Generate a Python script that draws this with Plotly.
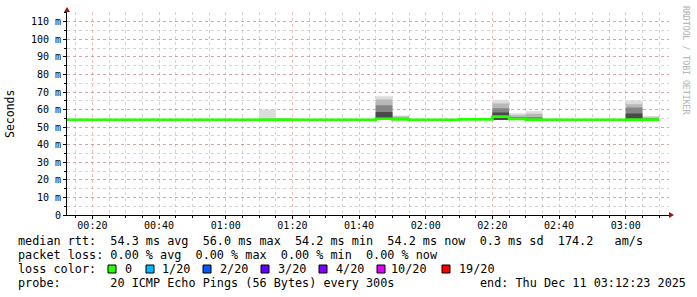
import plotly.graph_objects as go
from datetime import datetime, timedelta

# ---------------- data ----------------
DAY = "2025-12-11"
slot_times = ["00:10", "00:15", "00:20", "00:25", "00:30", "00:35", "00:40", "00:45",
              "00:50", "00:55", "01:00", "01:05", "01:10", "01:15", "01:20", "01:25",
              "01:30", "01:35", "01:40", "01:45", "01:50", "01:55", "02:00", "02:05",
              "02:10", "02:15", "02:20", "02:25", "02:30", "02:35", "02:40", "02:45",
              "02:50", "02:55", "03:00", "03:05"]
median_ms = [54.2, 54.2, 54.2, 54.2, 54.2, 54.2, 54.2, 54.2,
             54.2, 54.2, 54.2, 54.2, 54.3, 54.3, 54.2, 54.2,
             54.2, 54.2, 54.2, 54.8, 54.4, 54.2, 54.2, 54.2,
             54.4, 54.4, 56.0, 54.6, 54.3, 54.2, 54.2, 54.2,
             54.2, 54.2, 54.3, 54.3]

smoke_slots = ["01:10", "01:15", "01:45", "01:50", "02:10", "02:15",
               "02:20", "02:25", "02:30", "02:35", "03:00", "03:05"]
smoke_min = [54.1, 54.1, 54.1, 54.1, 54.1, 54.1, 54.1, 54.1, 54.1, 54.1, 54.1, 54.1]
smoke_p1 = [60.1, 55.0, 67.6, 56.7, 55.0, 55.0, 65.6, 57.9, 59.1, 55.0, 65.2, 56.3]
smoke_p2 = [None, None, 65.7, 56.0, None, None, 63.5, 56.8, 57.6, None, 63.0, 55.7]
smoke_p3 = [None, None, 62.4, 55.3, None, None, 60.7, 55.8, 55.8, None, 61.2, 55.1]
smoke_p4 = [None, None, 58.6, 54.9, None, None, 58.4, None, None, None, 57.8, None]

y_tickvals = [0, 10, 20, 30, 40, 50, 60, 70, 80, 90, 100, 110]
y_ticktext = ["0", "10 m", "20 m", "30 m", "40 m", "50 m", "60 m", "70 m",
              "80 m", "90 m", "100 m", "110 m"]

legend_line1 = "median rtt:  54.3 ms avg  56.0 ms max  54.2 ms min  54.2 ms now  0.3 ms sd  174.2   am/s"
legend_line2 = "packet loss: 0.00 % avg  0.00 % max  0.00 % min  0.00 % now"
legend_line3_title = "loss color:"
loss_labels = ["0", "1/20", "2/20", "3/20", "4/20", "10/20", "19/20"]
loss_colors = ["#26ff00", "#00b8ff", "#0059ff", "#5e00ff", "#7e00ff", "#dd00ff", "#ff0000"]
legend_line4 = "probe:       20 ICMP Echo Pings (56 Bytes) every 300s"
legend_end = "end: Thu Dec 11 03:12:23 2025"

# ---------------- geometry ----------------
W, H = 697, 297
L, R, T, B = 67, 28, 12, 82
PW, PH = W - L - R, H - T - B
x_start = datetime(2025, 12, 11, 0, 12, 23)
x_end = x_start + timedelta(seconds=PW * 18)
Y_TOP = (H - B - T) / 1.757
STEP = timedelta(minutes=5)


def px_x(px):
    return (px - L) / PW


def px_y(py):
    return (H - B - py) / PH


def t(s):
    return datetime.strptime(DAY + " " + s, "%Y-%m-%d %H:%M")


fig = go.Figure()

# smoke layers (lightest -> darkest), each slot drawn as a filled step block
for tops, col in [(smoke_p1, "#dcdcdc"), (smoke_p2, "#b8b8b8"),
                  (smoke_p3, "#858585"), (smoke_p4, "#4a4a4a")]:
    xs, ys = [], []
    for s, lo, hi in zip(smoke_slots, smoke_min, tops):
        if hi is None:
            continue
        a, b = t(s), t(s) + STEP
        xs += [a, a, b, b, a, None]
        ys += [lo, hi, hi, lo, lo, None]
    fig.add_trace(go.Scatter(x=xs, y=ys, mode="lines", fill="toself", fillcolor=col,
                             line=dict(width=0, color=col), connectgaps=False,
                             showlegend=False, hoverinfo="skip"))

# median line (step)
mx = [t(s) for s in slot_times] + [t(slot_times[-1]) + STEP]
my = median_ms + [median_ms[-1]]
fig.add_trace(go.Scatter(x=mx, y=my, mode="lines", line=dict(color="#26ff00", width=2.6, shape="hv"),
                         showlegend=False, hoverinfo="skip"))

MONO = "DejaVu Sans Mono"
MAJ = "rgba(225,110,110,0.45)"
MIN = "rgba(160,160,160,0.45)"
fig.update_layout(
    width=W, height=H, margin=dict(l=L, r=R, t=T, b=B),
    paper_bgcolor="white", plot_bgcolor="white",
    font=dict(family=MONO, size=10, color="#000"),
    xaxis=dict(range=[x_start, x_end], type="date",
               tick0="2025-12-11 00:00:00", dtick=1200000, tickformat="%H:%M",
               showgrid=True, gridcolor=MAJ, griddash="dot", gridwidth=1,
               showline=True, linecolor="#000", linewidth=1,
               ticks="outside", ticklen=3, tickcolor="#000", ticklabelstandoff=-2,
               tickfont=dict(family=MONO, size=10, color="#000"),
               minor=dict(dtick=300000, tick0="2025-12-11 00:00:00", showgrid=True,
                          gridcolor=MIN, griddash="dot", gridwidth=1,
                          ticks="outside", ticklen=2, tickcolor="#000"),
               zeroline=False, fixedrange=True),
    yaxis=dict(range=[0, Y_TOP], tickvals=y_tickvals, ticktext=y_ticktext,
               showgrid=True, gridcolor=MAJ, griddash="dot", gridwidth=1,
               showline=True, linecolor="#000", linewidth=1,
               ticks="outside", ticklen=3, tickcolor="#000",
               tickfont=dict(family=MONO, size=10, color="#000"),
               minor=dict(dtick=5, showgrid=True, gridcolor=MIN,
                          griddash="dot", gridwidth=1, ticks="outside", ticklen=2, tickcolor="#000"),
               zeroline=False, fixedrange=True),
)

# arrowheads
fig.add_shape(type="path", xref="paper", yref="paper", xsizemode="pixel", ysizemode="pixel",
              xanchor=0, yanchor=1, path="M -3,0 L 3,0 L 0,5 Z",
              fillcolor="#a01010", line=dict(width=0))
fig.add_shape(type="path", xref="paper", yref="paper", xsizemode="pixel", ysizemode="pixel",
              xanchor=1, yanchor=0, path="M 0,-3 L 0,3 L 5,0 Z",
              fillcolor="#a01010", line=dict(width=0))

ann = []
ann.append(dict(x=px_x(10), y=px_y(114), xref="paper", yref="paper", text="Seconds",
                textangle=-90, showarrow=False, font=dict(family=MONO, size=11.5, color="#000"),
                xanchor="center", yanchor="middle"))
ann.append(dict(x=px_x(686), y=px_y(60), xref="paper", yref="paper", text="RRDTOOL / TOBI OETIKER",
                textangle=90, showarrow=False, font=dict(family=MONO, size=8.2, color="#b0b0b0"),
                xanchor="center", yanchor="middle"))

LEG = dict(family=MONO, size=11.8, color="#000")
for txt, xl, yc in [(legend_line1, 16, 241), (legend_line2, 16, 255), (legend_line4, 16, 283),
                    (legend_line3_title, 16, 269), (legend_end, 478, 283)]:
    ann.append(dict(x=px_x(xl), y=px_y(yc), xref="paper", yref="paper", text=txt.replace(" ", "&nbsp;"),
                    showarrow=False, font=LEG, xanchor="left", yanchor="middle"))

box_x = [108, 146, 203, 261, 319, 377, 442]
label_x = [123, 160, 218, 276, 334, 389, 457]
for bx, lx, lab, col in zip(box_x, label_x, loss_labels, loss_colors):
    fig.add_shape(type="rect", xref="paper", yref="paper",
                  x0=px_x(bx), x1=px_x(bx + 8), y0=px_y(273), y1=px_y(265),
                  fillcolor=col, line=dict(color="#000", width=1))
    ann.append(dict(x=px_x(lx), y=px_y(269), xref="paper", yref="paper", text=lab,
                    showarrow=False, font=LEG, xanchor="left", yanchor="middle"))

fig.update_layout(annotations=ann)
fig.write_html("out.html")
